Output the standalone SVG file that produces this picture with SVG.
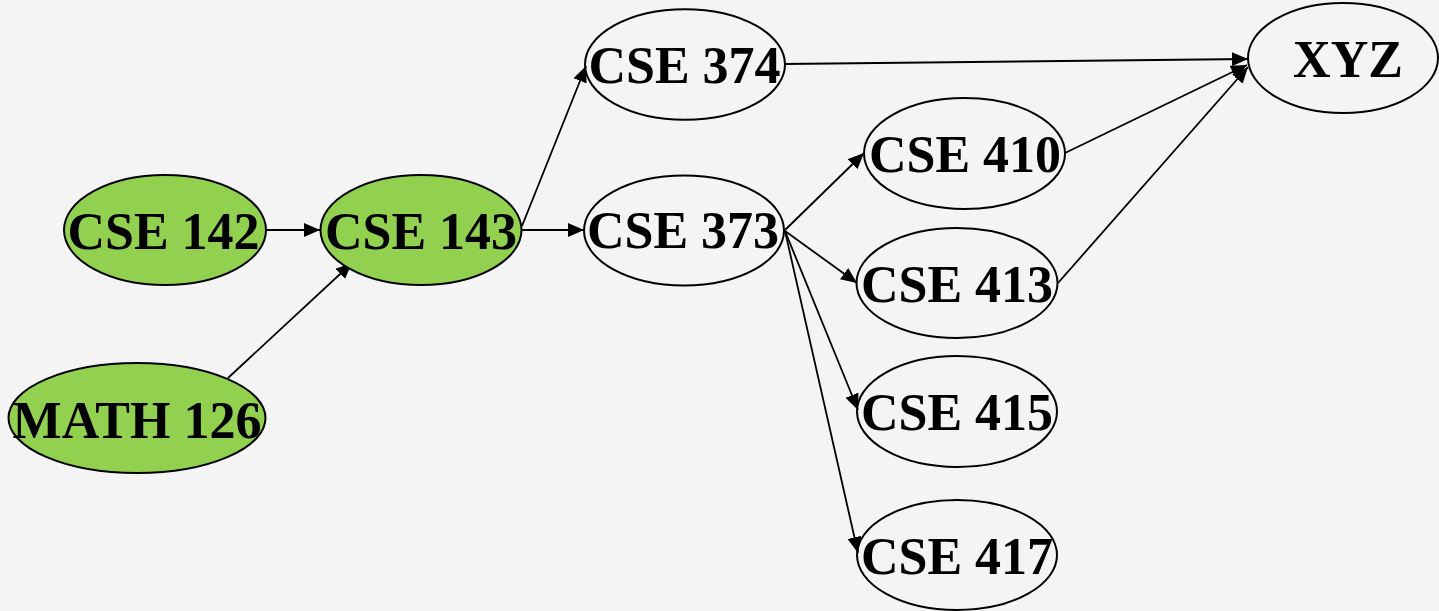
<svg xmlns="http://www.w3.org/2000/svg" width="1439" height="611" viewBox="0 0 1439 611">
  <style>
    .node { fill: none; stroke: #000; stroke-width: 2; }
    .done { fill: #92d050; }
    .label { font-family: "Liberation Serif", "Times New Roman", serif; font-weight: bold; font-size: 52px; fill: #000; text-anchor: middle; }
    .edge { stroke: #000; stroke-width: 1.8; fill: none; marker-end: url(#arrow); }
  </style>
  <defs>
    <marker id="arrow" markerUnits="userSpaceOnUse" markerWidth="16" markerHeight="14" viewBox="0 0 16 14" refX="16" refY="7" orient="auto">
      <path d="M0,0 L16,7 L0,14 z" fill="#000"/>
    </marker>
  </defs>
  <rect width="1439" height="611" fill="#f4f4f4"/>

  <g id="connectors">
    <line class="edge" x1="266" y1="230" x2="320" y2="230"/>
    <line class="edge" x1="228" y1="378" x2="352" y2="263"/>
    <line class="edge" x1="522" y1="226" x2="586" y2="66"/>
    <line class="edge" x1="522" y1="230" x2="584" y2="230"/>
    <line class="edge" x1="785" y1="64" x2="1248" y2="59"/>
    <line class="edge" x1="1065" y1="153" x2="1247" y2="65"/>
    <line class="edge" x1="1058" y1="283" x2="1248" y2="67"/>
    <line class="edge" x1="785" y1="230" x2="864" y2="153"/>
    <line class="edge" x1="785" y1="231" x2="857" y2="283"/>
    <line class="edge" x1="785" y1="231" x2="858" y2="410"/>
    <line class="edge" x1="785" y1="231" x2="858" y2="553"/>
  </g>

  <g id="cse142">
    <ellipse class="node done" cx="165" cy="230" rx="101" ry="55"/>
    <text class="label" x="163.5" y="249">CSE 142</text>
  </g>
  <g id="cse143">
    <ellipse class="node done" cx="421" cy="230" rx="100.5" ry="55"/>
    <text class="label" x="421" y="249">CSE 143</text>
  </g>
  <g id="math126">
    <ellipse class="node done" cx="137" cy="418" rx="128.5" ry="55"/>
    <text class="label" x="137" y="438">MATH 126</text>
  </g>
  <g id="cse374">
    <ellipse class="node" cx="685" cy="64.5" rx="100" ry="55.3"/>
    <text class="label" x="684.5" y="83">CSE 374</text>
  </g>
  <g id="cse373">
    <ellipse class="node" cx="684" cy="230.5" rx="100" ry="55"/>
    <text class="label" x="683" y="248">CSE 373</text>
  </g>
  <g id="cse410">
    <ellipse class="node" cx="964.5" cy="153.5" rx="100.5" ry="55.5"/>
    <text class="label" x="965" y="171.5">CSE 410</text>
  </g>
  <g id="cse413">
    <ellipse class="node" cx="957" cy="283" rx="100.5" ry="55"/>
    <text class="label" x="957" y="301.5">CSE 413</text>
  </g>
  <g id="cse415">
    <ellipse class="node" cx="957" cy="411.5" rx="100" ry="55.5"/>
    <text class="label" x="957" y="430">CSE 415</text>
  </g>
  <g id="cse417">
    <ellipse class="node" cx="957" cy="555" rx="100" ry="55"/>
    <text class="label" x="957" y="573.5">CSE 417</text>
  </g>
  <g id="xyz">
    <ellipse class="node" cx="1343" cy="58" rx="95" ry="55"/>
    <text class="label" x="1348" y="77">XYZ</text>
  </g>
</svg>
